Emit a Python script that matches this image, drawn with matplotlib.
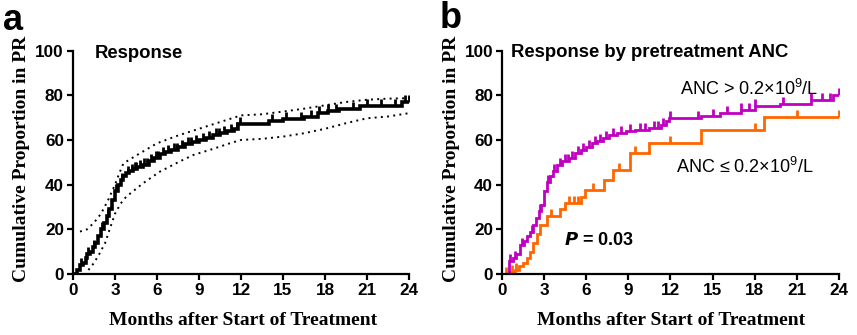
import numpy as np
import matplotlib
matplotlib.use("Agg")
import matplotlib.pyplot as plt

plt.rcParams['font.family'] = ['Liberation Sans', 'DejaVu Sans']
plt.rcParams['mathtext.fontset'] = 'custom'
plt.rcParams['mathtext.rm'] = 'Liberation Sans'
plt.rcParams['mathtext.it'] = 'Liberation Sans:italic'

# ---------------- data ----------------
# panel a: overall cumulative response (%)
a_time = [0, 0.3, 0.5, 0.7, 0.9, 1.0, 1.2, 1.4, 1.6, 1.8, 2.0, 2.2, 2.4, 2.6, 2.8,
          3.0, 3.2, 3.4, 3.6, 3.8, 4.0, 4.3, 4.6, 5.0, 5.4, 5.8, 6.2, 6.6, 7.0, 7.5,
          8.0, 8.5, 9.0, 9.5, 10.0, 10.5, 11.0, 11.5, 11.8, 14.0, 15.0, 16.5, 17.5,
          18.2, 19.0, 20.5, 23.5]
a_resp = [0, 2, 4, 5, 7, 9, 10, 12, 14, 17, 20, 23, 26, 29, 33,
          37, 40, 42, 44, 45, 46, 47, 48, 49, 50.5, 52, 53.5, 54.5, 55.5, 57,
          58, 59, 60, 61, 62, 63, 64, 65, 67, 68.5, 69.5, 70.5, 72,
          73, 74, 75, 77]
a_cens = [0.6, 1.1, 1.5, 2.1, 2.5, 3.1, 3.5, 3.9, 4.2, 4.4, 4.5, 4.8, 5.1, 5.3, 5.6,
          5.9, 6.1, 6.4, 6.8, 7.2, 7.4, 7.8, 8.2, 8.4, 8.8, 9.3, 9.7, 10.2, 10.4,
          10.8, 11.3, 11.7, 11.9, 14.2, 15.2, 16.3, 17.0, 17.6, 18.2, 18.8, 20.0,
          21.0, 22.0, 23.0, 23.7, 24.0]

a_ci_t = [0.5, 1.0, 1.5, 2.0, 2.5, 3.0, 3.3, 3.6, 4.5, 6.0, 7.5, 9.0, 10.5, 12.0,
          13.5, 15.0, 16.5, 18.0, 19.5, 21.0, 22.5, 24.0]
a_ci_hi = [19, 20, 23, 27, 33, 40, 45, 49.5, 53, 58.5, 62, 65, 68, 71,
           71.5, 72.7, 74, 75.5, 77, 78, 78.5, 78.7]
a_ci_lo_t = [1.1, 1.5, 1.9, 2.3, 2.6, 3.0, 3.4, 3.8, 5.0, 6.2, 7.5, 8.6, 10.0,
             11.2, 12.0, 13.5, 15.0, 16.5, 18.0, 19.5, 21.0, 22.5, 24.0]
a_ci_lo = [1.8, 5, 9.2, 14, 19.7, 27, 31.5, 34.6, 40.6, 45.8, 50, 53.3, 56,
           58.5, 60, 60.5, 61.5, 63, 65, 67.5, 69.7, 70.5, 72]

# panel b: ANC > 0.2e9/L (purple)
hi_time = [0, 0.5, 0.8, 1.0, 1.3, 1.6, 1.8, 2.0, 2.2, 2.4, 2.6, 2.8, 3.0, 3.2, 3.4,
           3.6, 3.9, 4.3, 4.8, 5.2, 5.6, 6.0, 6.4, 6.8, 7.2, 7.6, 8.2, 8.8, 9.5,
           10.5, 11.3, 11.7, 11.9, 14.2, 15.5, 17.0, 18.0, 19.8, 22.0, 23.6]
hi_resp = [0, 6, 7, 9, 13, 15, 17, 19, 22, 25, 28, 31, 37, 41, 44,
           46, 49, 50.5, 52, 54, 55.5, 57, 58.5, 59.5, 61, 62, 63, 64, 64.5,
           65.5, 66.5, 68.5, 70, 70.8, 72, 73.5, 75, 76.3, 78, 80]
hi_cens = [0.6, 0.9, 1.4, 2.1, 2.7, 3.3, 3.7, 4.1, 4.5, 4.7, 5.0, 5.4, 5.8, 6.2,
           6.6, 7.0, 7.4, 7.9, 8.5, 9.1, 9.8, 10.2, 10.8, 11.1, 11.5, 12.0, 14.0,
           15.0, 16.0, 17.0, 17.6, 18.0, 20.0, 22.0, 22.8, 23.4, 24.0]

# panel b: ANC <= 0.2e9/L (orange)
lo_time = [0, 0.5, 0.9, 1.2, 1.5, 1.75, 2.0, 2.2, 2.5, 2.7, 3.2, 4.1, 4.5, 5.6,
           5.9, 7.3, 7.9, 9.1, 10.5, 14.2, 18.7]
lo_resp = [0, 1, 2, 3.5, 5, 7, 10, 14, 18, 22, 26, 29, 32, 34.5,
           37.5, 42, 46.5, 54, 58.5, 64.5, 70.5]
lo_cens = [0.3, 0.7, 1.0, 3.5, 4.8, 5.1, 5.4, 6.5, 8.3, 9.5, 12.0, 18.0, 21.0, 24.0]

p_text = r'$\mathbfit{P}$ = 0.03'


def step_at(t, v, c):
    idx = np.searchsorted(np.asarray(t), np.asarray(c), side='right') - 1
    return np.asarray(v)[idx]


def km(ax, t, v, cens, color, lw):
    tt = list(t) + [24]
    vv = list(v) + [v[-1]]
    ax.step(tt, vv, where='post', color=color, lw=lw, solid_joinstyle='miter')
    ax.plot(cens, step_at(t, v, cens), ls='none', marker=2, ms=5, mew=2,
            color=color)


def style(ax):
    ax.set_xlim(0, 24)
    ax.set_ylim(0, 100)
    ax.set_xticks(range(0, 25, 3))
    ax.set_yticks(range(0, 101, 20))
    for s in ['top', 'right']:
        ax.spines[s].set_visible(False)
    for s in ['left', 'bottom']:
        ax.spines[s].set_linewidth(1.6)
    ax.tick_params(width=1.6, length=4.5, labelsize=12.3, pad=2)
    for lab in ax.get_xticklabels() + ax.get_yticklabels():
        lab.set_fontweight('bold')


fig = plt.figure(figsize=(8.57, 3.35), dpi=100)
ax1 = fig.add_axes([0.0852, 0.182, 0.392, 0.667])
ax2 = fig.add_axes([0.5858, 0.182, 0.393, 0.667])

# panel a
ax1.plot(a_ci_t, a_ci_hi, color='black', lw=1.4, ls=(0, (1, 2.2)))
ax1.plot(a_ci_lo_t, a_ci_lo, color='black', lw=1.4, ls=(0, (1, 2.2)))
km(ax1, a_time, a_resp, a_cens, 'black', 2.6)
ax1.text(1.55, 96.5, 'Response', fontsize=13.3, fontweight='bold', va='baseline')
style(ax1)

# panel b
km(ax2, lo_time, lo_resp, lo_cens, '#FF6600', 2.0)
km(ax2, hi_time, hi_resp, hi_cens, '#C000C0', 2.0)
ax2.text(0.65, 97, 'Response by pretreatment ANC', fontsize=13.3,
         fontweight='bold', va='baseline')
ax2.text(12.7, 80, r'ANC > 0.2×10$^{9}$/L', fontsize=13, va='baseline')
ax2.text(12.4, 45, r'ANC ≤ 0.2×10$^{9}$/L', fontsize=13, va='baseline')
ax2.text(4.4, 13, p_text, fontsize=13, fontweight='bold', va='baseline')
style(ax2)

# panel letters and axis titles
fig.text(3 / 857, 1 - 30 / 335, 'a', fontsize=26, fontweight='bold', va='baseline')
fig.text(440 / 857, 1 - 28 / 335, 'b', fontsize=26, fontweight='bold', va='baseline')
for xc in [22 / 857, 451 / 857]:
    fig.text(xc, 1 - 159 / 335, 'Cumulative Proportion in PR', rotation=90,
             ha='center', va='center', family='Liberation Serif',
             fontweight='bold', fontsize=14)
for xc in [243.5 / 857, 671 / 857]:
    fig.text(xc, 1 - 325 / 335, 'Months after Start of Treatment', ha='center',
             va='baseline', family='Liberation Serif', fontweight='bold',
             fontsize=14)

fig.savefig('out.png', dpi=100)
